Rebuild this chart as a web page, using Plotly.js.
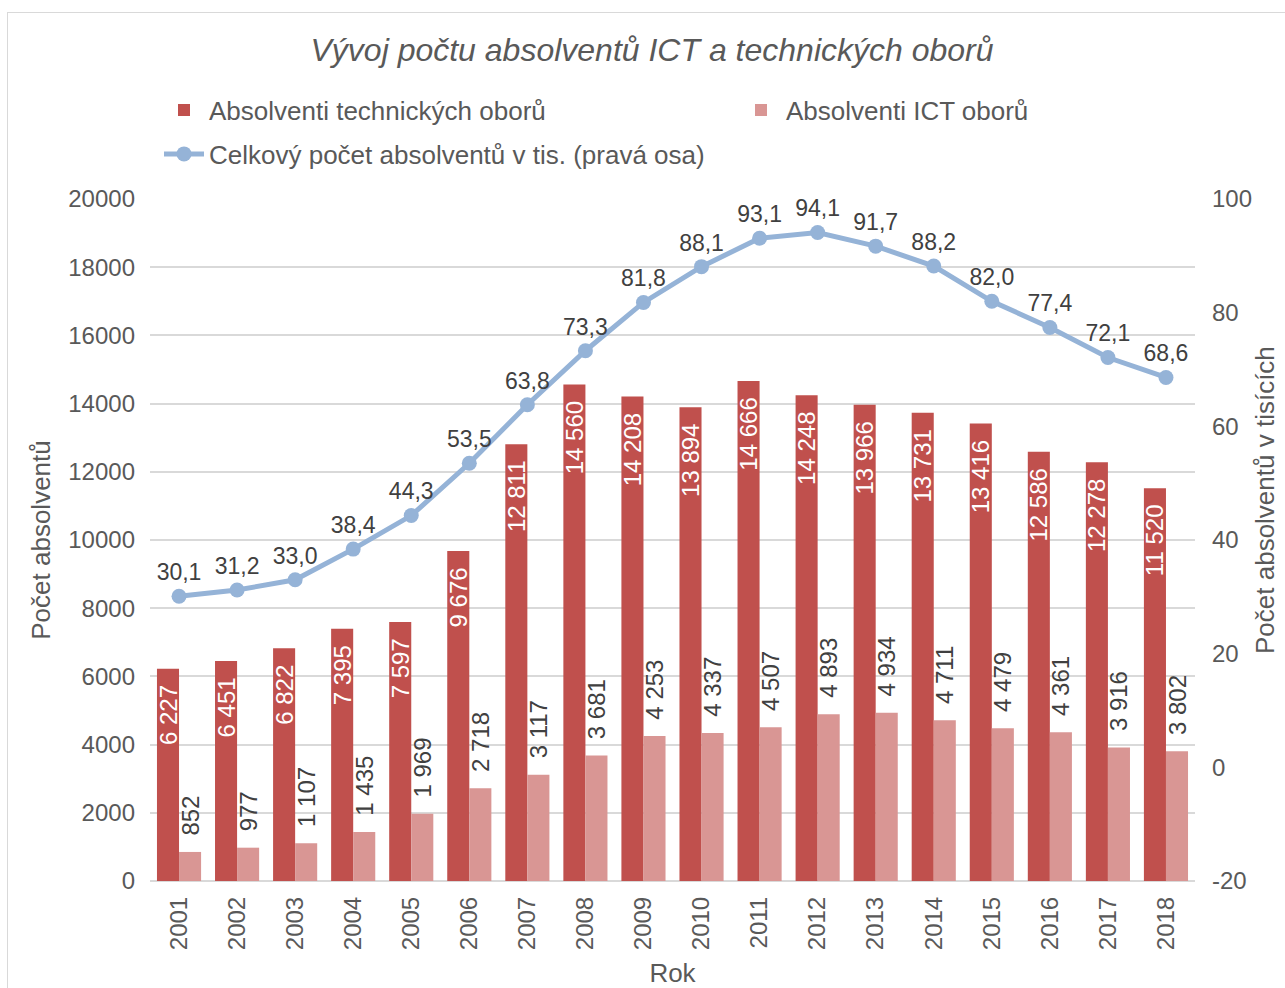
<!DOCTYPE html>
<html>
<head>
<meta charset="utf-8">
<script src="https://cdn.plot.ly/plotly-3.0.1.min.js"></script>
<style>
html,body{margin:0;padding:0;background:#fff;}
#frame{position:absolute;left:7px;top:12px;width:1300px;height:1000px;border:1px solid #D9D9D9;box-sizing:border-box;}
#chart{position:absolute;left:0;top:0;width:1285px;height:988px;}
</style>
</head>
<body>
<div id="frame"></div>
<div id="chart"></div>
<script>
const years = ['2001','2002','2003','2004','2005','2006','2007','2008','2009','2010','2011','2012','2013','2014','2015','2016','2017','2018'];
const techGrads = [6227, 6451, 6822, 7395, 7597, 9676, 12811, 14560, 14208, 13894, 14666, 14248, 13966, 13731, 13416, 12586, 12278, 11520];
const ictGrads = [852, 977, 1107, 1435, 1969, 2718, 3117, 3681, 4253, 4337, 4507, 4893, 4934, 4711, 4479, 4361, 3916, 3802];
const totalGradsK = [30.1, 31.2, 33.0, 38.4, 44.3, 53.5, 63.8, 73.3, 81.8, 88.1, 93.1, 94.1, 91.7, 88.2, 82.0, 77.4, 72.1, 68.6];
const rightTickVals = [-20, 0, 20, 40, 60, 80, 100];
const rightTickText = ['-20', '0', '20', '40', '60', '80', '100'];

const FONT = 'Arial, "Liberation Sans", sans-serif';
const GREY = '#595959';
const NBSP = '\u00a0';

const traces = [
  {
    type: 'bar', name: 'Absolventi technických oborů', x: years, y: techGrads,
    marker: {color: '#C0504D'},
    texttemplate: '%{y:,}' + NBSP + NBSP, textposition: 'inside', insidetextanchor: 'end',
    textangle: -90, constraintext: 'none',
    textfont: {family: FONT, size: 24, color: '#FFFFFF'},
    legend: 'legend', hoverinfo: 'skip'
  },
  {
    type: 'bar', name: 'Absolventi ICT oborů', x: years, y: ictGrads,
    marker: {color: '#D99694'},
    texttemplate: NBSP + NBSP + '%{y:,}', textposition: 'outside',
    textangle: -90, constraintext: 'none', cliponaxis: false,
    textfont: {family: FONT, size: 24, color: '#404040'},
    legend: 'legend2', hoverinfo: 'skip'
  },
  {
    type: 'scatter', mode: 'lines+markers+text', name: 'Celkový počet absolventů v tis. (pravá osa)',
    x: years, y: totalGradsK, yaxis: 'y2',
    line: {color: '#95B3D7', width: 5},
    marker: {color: '#95B3D7', size: 15},
    texttemplate: '%{y:.1f}', textposition: 'top center', cliponaxis: false,
    textfont: {family: FONT, size: 23, color: '#404040'},
    legend: 'legend3', hoverinfo: 'skip'
  }
];

const legendBase = {
  orientation: 'h', xanchor: 'left', yanchor: 'middle',
  font: {family: FONT, size: 26, color: GREY},
  bgcolor: 'rgba(0,0,0,0)', itemwidth: 40
};

const layout = {
  width: 1285, height: 988,
  margin: {l: 150, r: 90, t: 199, b: 107},
  paper_bgcolor: 'rgba(0,0,0,0)', plot_bgcolor: 'rgba(0,0,0,0)',
  separators: ', ',
  font: {family: FONT, color: GREY},
  title: {
    text: 'Vývoj počtu absolventů ICT a technických oborů',
    font: {family: FONT, size: 32, color: GREY, style: 'italic'},
    xref: 'container', yref: 'container', x: 0.5074, y: 1 - 50/988,
    xanchor: 'center', yanchor: 'middle'
  },
  barmode: 'group', bargap: 0.24, bargroupgap: 0,
  xaxis: {
    type: 'category', range: [-0.5, 17.5], tickangle: -90,
    tickfont: {family: FONT, size: 24, color: GREY},
    showgrid: false, showline: false, ticks: '', ticklabelstandoff: 10,
    title: {text: 'Rok', font: {family: FONT, size: 26, color: GREY}, standoff: 14}
  },
  yaxis: {
    range: [0, 20000], dtick: 2000, tickformat: 'd',
    tickfont: {family: FONT, size: 24, color: GREY},
    gridcolor: '#D9D9D9', gridwidth: 2, zeroline: true, zerolinecolor: '#D9D9D9', zerolinewidth: 2,
    ticks: '', ticklabelstandoff: 14,
    title: {text: 'Počet absolventů', font: {family: FONT, size: 26, color: GREY}, standoff: 10}
  },
  yaxis2: {
    overlaying: 'y', side: 'right', range: [-20, 100],
    tickmode: 'array', tickvals: rightTickVals, ticktext: rightTickText,
    tickfont: {family: FONT, size: 24, color: GREY},
    showgrid: false, zeroline: false, ticks: '', ticklabelstandoff: 16
  },
  annotations: [{
    text: 'Počet absolventů v tisících', textangle: -90,
    xref: 'paper', yref: 'paper', x: (1265-150)/1045, y: (881-500)/682,
    xanchor: 'center', yanchor: 'middle', showarrow: false,
    font: {family: FONT, size: 26, color: GREY}
  }],
  showlegend: true,
  legend: Object.assign({}, legendBase, {x: 9/1045, y: (881-110)/682}),
  legend2: Object.assign({}, legendBase, {x: (736-150)/1045, y: (881-110)/682}),
  legend3: Object.assign({}, legendBase, {x: 9/1045, y: (881-154)/682})
};

Plotly.newPlot('chart', traces, layout, {displayModeBar: false, staticPlot: true});
</script>
</body>
</html>
